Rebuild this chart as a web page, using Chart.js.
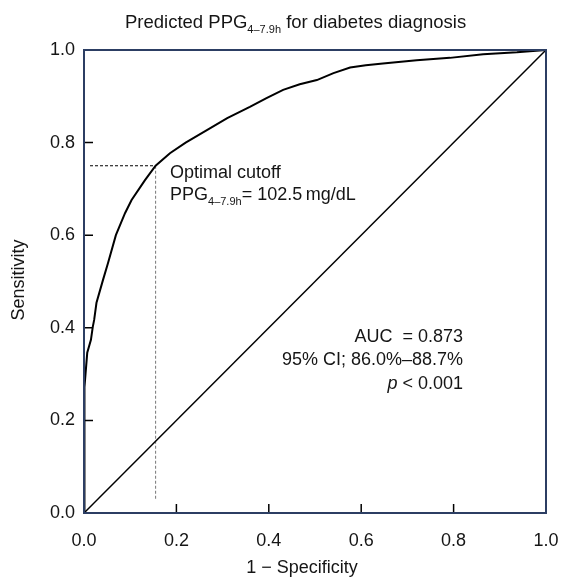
<!DOCTYPE html>
<html>
<head>
<meta charset="utf-8">
<script src="https://cdn.jsdelivr.net/npm/chart.js@4"></script>
<style>
  body { margin: 0; background: #fff; }
  #roc { display: block; }
</style>
</head>
<body>
<canvas id="roc" width="563" height="577"></canvas>
<script>
// ROC curve (1 - specificity, sensitivity)
const fpr = [0, 0, 0.001, 0.002, 0.007, 0.015, 0.019, 0.022, 0.027, 0.041, 0.052, 0.069, 0.089, 0.103, 0.132, 0.155, 0.186, 0.22, 0.266, 0.31, 0.359, 0.395, 0.431, 0.467, 0.504, 0.54, 0.576, 0.61, 0.647, 0.72, 0.792, 0.864, 0.937, 1.0];
const tpr = [0, 0.15, 0.2, 0.272, 0.346, 0.374, 0.402, 0.417, 0.454, 0.503, 0.54, 0.6, 0.648, 0.676, 0.719, 0.75, 0.777, 0.80, 0.827, 0.853, 0.877, 0.896, 0.914, 0.926, 0.935, 0.95, 0.962, 0.967, 0.971, 0.978, 0.983, 0.991, 0.995, 1.0];
const refLine = [0, 1];
const cutoff = { fpr: 0.155, tpr: 0.75 };
const axisTicks = [0, 0.2, 0.4, 0.6, 0.8, 1.0];

const textColor = '#151515';
const frameColor = '#2c3e63';
const font = '"Liberation Sans", Arial, sans-serif';

// draws text pieces where some are subscripts
function drawRich(ctx, parts, x, y, align, size) {
    size = size || 18;
    const subSize = Math.round(size * 0.62);
    let total = 0;
    parts.forEach(p => {
        ctx.font = (p.italic ? 'italic ' : '') + (p.sub ? subSize : size) + 'px ' + font;
        p.w = ctx.measureText(p.t).width;
        total += p.w;
    });
    let cx = align === 'right' ? x - total : align === 'center' ? x - total / 2 : x;
    ctx.textAlign = 'left';
    ctx.textBaseline = 'alphabetic';
    parts.forEach(p => {
        ctx.font = (p.italic ? 'italic ' : '') + (p.sub ? subSize : size) + 'px ' + font;
        ctx.fillText(p.t, cx, p.sub ? y + 5 : y);
        cx += p.w;
    });
}

const decor = {
    id: 'decor',
    afterDatasetsDraw(chart) {
        const { ctx, chartArea: a, scales: { x, y } } = chart;
        ctx.save();
        // inward tick marks
        ctx.strokeStyle = '#000';
        ctx.lineWidth = 1.5;
        axisTicks.slice(1, -1).forEach(v => {
            const px = x.getPixelForValue(v);
            const py = y.getPixelForValue(v);
            ctx.beginPath();
            ctx.moveTo(px, a.bottom); ctx.lineTo(px, a.bottom - 9);
            ctx.moveTo(a.left, py); ctx.lineTo(a.left + 9, py);
            ctx.stroke();
        });
        // frame
        ctx.strokeStyle = frameColor;
        ctx.lineWidth = 2;
        ctx.strokeRect(a.left, a.top, a.right - a.left, a.bottom - a.top);

        ctx.fillStyle = textColor;
        drawRich(ctx, [{ t: 'Predicted PPG' }, { t: '4\u20137.9h', sub: true }, { t: ' for diabetes diagnosis' }], 125, 28, 'left', 18.5);
        drawRich(ctx, [{ t: 'Optimal cutoff' }], 170, 178, 'left');
        drawRich(ctx, [{ t: 'PPG' }, { t: '4\u20137.9h', sub: true }, { t: '= 102.5\u2009mg/dL' }], 170, 200, 'left');
        drawRich(ctx, [{ t: 'AUC  = 0.873' }], 463, 342, 'right');
        drawRich(ctx, [{ t: '95% CI; 86.0%\u201388.7%' }], 463, 365, 'right');
        drawRich(ctx, [{ t: 'p', italic: true }, { t: ' < 0.001' }], 463, 389, 'right');
        drawRich(ctx, [{ t: '1 \u2212 Specificity' }], 302, 573, 'center');

        ctx.translate(24, 280);
        ctx.rotate(-Math.PI / 2);
        drawRich(ctx, [{ t: 'Sensitivity' }], 0, 0, 'center');
        ctx.restore();
    }
};

new Chart(document.getElementById('roc'), {
    type: 'scatter',
    data: {
        datasets: [
            {
                label: 'ROC',
                data: fpr.map((v, i) => ({ x: v, y: tpr[i] })),
                showLine: true,
                borderColor: '#000',
                borderWidth: 2,
                pointRadius: 0,
                tension: 0
            },
            {
                label: 'Reference',
                data: refLine.map(v => ({ x: v, y: v })),
                showLine: true,
                borderColor: '#000',
                borderWidth: 1.5,
                pointRadius: 0
            },
            {
                label: 'Cutoff sensitivity',
                data: [{ x: 0.013, y: cutoff.tpr }, { x: cutoff.fpr, y: cutoff.tpr }],
                showLine: true,
                borderColor: '#000',
                borderWidth: 1,
                borderDash: [3, 2],
                pointRadius: 0
            },
            {
                label: 'Cutoff specificity',
                data: [{ x: cutoff.fpr, y: cutoff.tpr }, { x: cutoff.fpr, y: 0.03 }],
                showLine: true,
                borderColor: '#777',
                borderWidth: 1,
                borderDash: [3, 2],
                pointRadius: 0
            }
        ]
    },
    options: {
        responsive: false,
        animation: false,
        layout: { padding: { top: 50, right: 17, left: 0, bottom: 0 } },
        plugins: { legend: { display: false }, tooltip: { enabled: false } },
        scales: {
            x: {
                type: 'linear', min: 0, max: 1,
                afterFit: s => { s.height = 64; s.paddingLeft = 0; s.paddingRight = 0; },
                afterBuildTicks: s => { s.ticks = axisTicks.map(v => ({ value: v })); },
                grid: { display: false, drawTicks: false },
                border: { display: false },
                ticks: { padding: 17, color: textColor, font: { family: font, size: 18 }, callback: v => v.toFixed(1) }
            },
            y: {
                type: 'linear', min: 0, max: 1,
                afterFit: s => { s.width = 84; s.paddingTop = 0; s.paddingBottom = 0; },
                afterBuildTicks: s => { s.ticks = axisTicks.map(v => ({ value: v })); },
                grid: { display: false, drawTicks: false },
                border: { display: false },
                ticks: { padding: 9, color: textColor, font: { family: font, size: 18 }, callback: v => v.toFixed(1) }
            }
        }
    },
    plugins: [decor]
});
</script>
</body>
</html>
